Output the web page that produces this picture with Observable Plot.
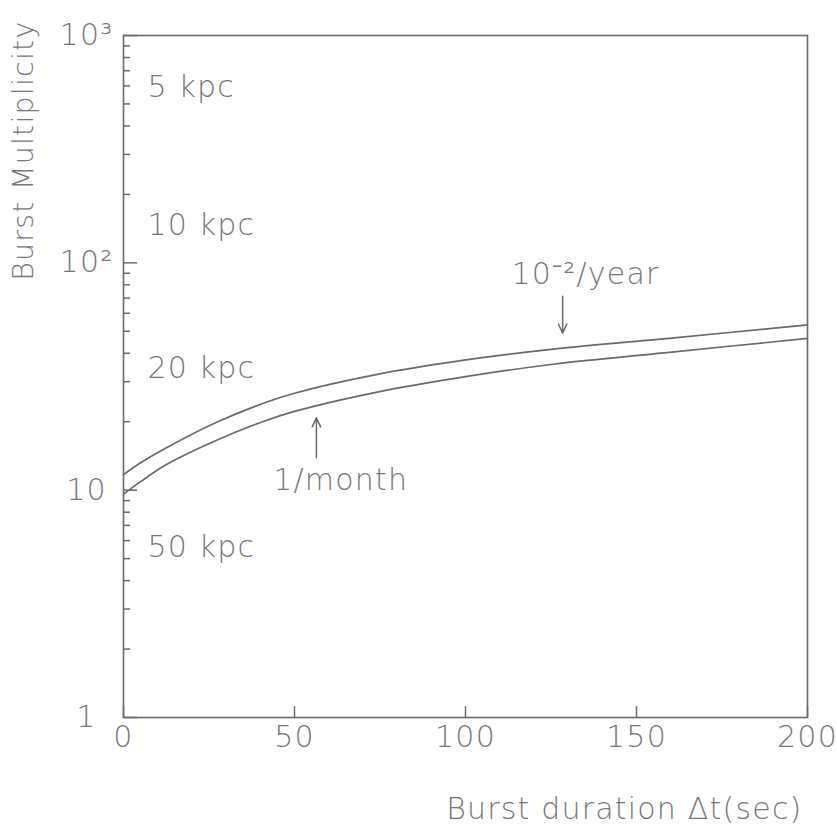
<!DOCTYPE html>
<html><head><meta charset="utf-8">
<script src="https://cdn.jsdelivr.net/npm/d3@7"></script>
<script src="https://cdn.jsdelivr.net/npm/@observablehq/plot@0.6"></script>
<style>
body{margin:0;background:#fff;}
</style>
</head><body><div id="chart"></div>
<script>
// Burst duration (sec) sampled along the curves
const durations = [0, 5, 12.3, 26.9, 41.5, 50, 74.2, 99.6, 125, 161, 200];
// Burst multiplicity for rate 10^-2 / year (upper curve)
const multYear = [11.7, 13.2, 15.3, 19.8, 24.3, 26.7, 32.3, 37.3, 41.6, 46.8, 53.3];
// Burst multiplicity for rate 1 / month (lower curve)
const multMonth = [9.6, 10.9, 12.9, 16.5, 20.2, 22.2, 27.0, 31.5, 35.7, 40.6, 46.5];

// Axis ticks
const xTickValues = [0, 50, 100, 150, 200];
const yMajorValues = [1, 10, 100, 1000];
const yMajorLabels = ["1", "10", "10²", "10³"];
const yMinorValues = [2,3,4,5,6,7,8,9,20,30,40,50,60,70,80,90,200,300,400,500,600,700,800,900];

// Distance labels along the y axis
const kpcLabels = ["5 kpc", "10 kpc", "20 kpc", "50 kpc"];
const kpcMult = [590, 146, 34.4, 5.58];
const kpcX = 7;

// Curve annotations
const annLabels = ["10⁻²/year", "1/month"];
const annLabelX = [135.1, 63.5];
const annLabelY = [89.1, 11.0];
const arrowX = [128.4, 56.4];
const arrowFrom = [71.3, 13.9];
const arrowTo = [49.1, 20.8];

const xLabel = "Burst duration Δt(sec)";
const yLabel = "Burst Multiplicity";

const lines = [
  ...durations.map((t, i) => ({t, m: multYear[i], s: "year"})),
  ...durations.map((t, i) => ({t, m: multMonth[i], s: "month"}))
];
const kpc = kpcLabels.map((l, i) => ({l, m: kpcMult[i], x: kpcX}));
const ann = annLabels.map((l, i) => ({l, x: annLabelX[i], y: annLabelY[i], ax: arrowX[i], y1: arrowFrom[i], y2: arrowTo[i]}));

const ink = "#6a6a6a";
const plot = Plot.plot({
  width: 837, height: 834,
  marginLeft: 123, marginRight: 30, marginTop: 35, marginBottom: 117,
  style: {fontFamily: "DejaVu Sans", fontSize: "30px", color: "#777", background: "white", letterSpacing: "1.2px", fontWeight: 200},
  x: {domain: [0, 200]},
  y: {type: "log", domain: [1, 1000]},
  marks: [
    Plot.axisX(xTickValues, {tickSize: -11, text: null, stroke: ink, strokeWidth: 1.5}),
    Plot.axisX(xTickValues, {tickSize: 0, tickPadding: 8, label: null, tickFormat: d => String(d)}),
    Plot.axisY(yMajorValues, {tickSize: -14, text: null, stroke: ink, strokeWidth: 1.5}),
    Plot.axisY(yMinorValues, {tickSize: -7, text: null, stroke: ink, strokeWidth: 1.5, label: null}),
    Plot.axisY(yMajorValues, {tickSize: 0, tickPadding: 37, textAnchor: "middle", label: null,
      tickFormat: d => yMajorLabels[yMajorValues.indexOf(d)]}),
    Plot.frame({stroke: ink, strokeWidth: 1.6}),
    Plot.line(lines, {x: "t", y: "m", z: "s", curve: "catmull-rom", stroke: ink, strokeWidth: 1.7}),
    Plot.text(kpc, {x: "x", y: "m", text: "l", textAnchor: "start"}),
    Plot.text(ann, {x: "x", y: "y", text: "l"}),
    Plot.arrow(ann, {x1: "ax", x2: "ax", y1: "y1", y2: "y2", stroke: ink, strokeWidth: 1.5, headLength: 10, headAngle: 50}),
    Plot.text([xLabel], {frameAnchor: "bottom-right", text: d => d, textAnchor: "end", dx: -5, dy: 101}),
    Plot.text([yLabel], {frameAnchor: "top-left", text: d => d, textAnchor: "end", rotate: -90, dx: -111, dy: -15, fontSize: 28.5})
  ]
});
document.getElementById("chart").appendChild(plot);
</script>
</body></html>
